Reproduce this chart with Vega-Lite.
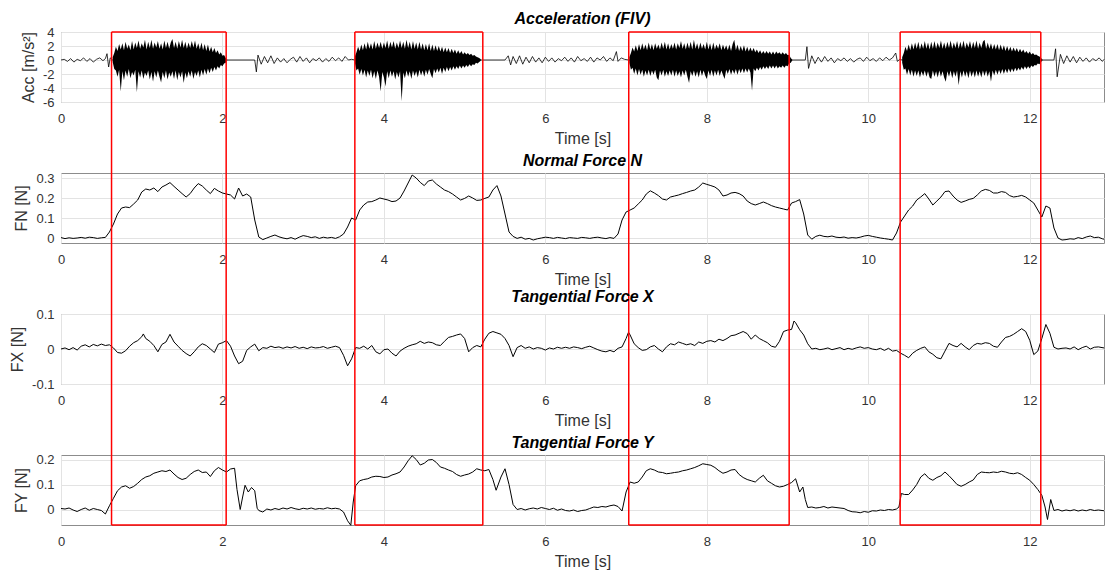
{
"$schema": "https://vega.github.io/schema/vega-lite/v6.json",
"padding": {"left": 9, "top": 10, "right": 0, "bottom": 0},
"bounds": "flush",
"spacing": 71,
"config": {
  "locale": {"number": {"decimal": ".", "thousands": ",", "grouping": [3], "currency": ["$", ""], "minus": "-"}},
  "font": "Liberation Sans",
  "view": {"stroke": "#8c8c8c", "strokeWidth": 1},
  "axis": {"labelFont": "Liberation Sans", "labelFontSize": 13, "labelColor": "#333333", "titleFont": "Liberation Sans", "titleFontSize": 16, "titleFontWeight": "normal", "titleColor": "#333333", "gridColor": "#e3e3e3", "domain": false, "ticks": false, "labelOverlap": false, "labelBound": false, "labelFlush": false},
  "axisX": {"labelPadding": 10, "titlePadding": 5},
  "axisY": {"labelPadding": 7, "titlePadding": 6},
  "title": {"font": "Liberation Sans", "fontSize": 16, "fontWeight": "bold", "fontStyle": "italic", "color": "#000000", "offset": 3}
},
"datasets": {
"box": [{"s":0.626,"e":2.046},{"s":3.64,"e":5.225},{"s":7.033,"e":9.02},{"s":10.395,"e":12.137}],
"accq": [{"t":0,"a":0},{"t":0.04,"a":0.1},{"t":0.08,"a":-0.2},{"t":0.12,"a":0.2},{"t":0.16,"a":-0.3},{"t":0.2,"a":0.1},{"t":0.24,"a":-0.1},{"t":0.28,"a":0.3},{"t":0.32,"a":-0.2},{"t":0.36,"a":0.2},{"t":0.4,"a":-0.3},{"t":0.44,"a":0.1},{"t":0.48,"a":0.3},{"t":0.52,"a":-0.1},{"t":0.55,"a":0.2},{"t":0.57,"a":0.9},{"t":0.59,"a":-1.0},{"t":0.61,"a":0.3},{"t":0.64,"a":0},{"t":2.06,"a":0},{"t":2.4,"a":0},{"t":2.42,"a":-1.7},{"t":2.44,"a":0.7},{"t":2.48,"a":-0.6},{"t":2.52,"a":0.5},{"t":2.56,"a":-0.4},{"t":2.6,"a":0.6},{"t":2.64,"a":-0.5},{"t":2.68,"a":0.3},{"t":2.72,"a":-0.3},{"t":2.76,"a":0.2},{"t":2.8,"a":-0.4},{"t":2.84,"a":0.1},{"t":2.88,"a":0.4},{"t":2.92,"a":-0.3},{"t":2.96,"a":0.5},{"t":3.0,"a":-0.2},{"t":3.04,"a":0.3},{"t":3.08,"a":-0.4},{"t":3.12,"a":0.2},{"t":3.16,"a":-0.1},{"t":3.2,"a":0.3},{"t":3.24,"a":-0.3},{"t":3.28,"a":0.2},{"t":3.32,"a":-0.2},{"t":3.36,"a":0.4},{"t":3.4,"a":-0.1},{"t":3.44,"a":0.3},{"t":3.48,"a":-0.2},{"t":3.52,"a":0.5},{"t":3.56,"a":0.0},{"t":3.6,"a":0.1},{"t":3.64,"a":0},{"t":5.2,"a":0},{"t":5.5,"a":0},{"t":5.54,"a":0.6},{"t":5.57,"a":-0.7},{"t":5.6,"a":0.5},{"t":5.64,"a":-0.5},{"t":5.68,"a":0.6},{"t":5.72,"a":-0.6},{"t":5.76,"a":0.4},{"t":5.8,"a":-0.4},{"t":5.84,"a":0.5},{"t":5.88,"a":-0.3},{"t":5.92,"a":0.3},{"t":5.96,"a":-0.4},{"t":6.0,"a":0.4},{"t":6.04,"a":-0.2},{"t":6.08,"a":0.3},{"t":6.12,"a":-0.3},{"t":6.16,"a":0.2},{"t":6.2,"a":-0.1},{"t":6.24,"a":0.4},{"t":6.28,"a":-0.2},{"t":6.32,"a":0.3},{"t":6.36,"a":-0.3},{"t":6.4,"a":0.5},{"t":6.44,"a":-0.1},{"t":6.48,"a":0.2},{"t":6.52,"a":-0.2},{"t":6.56,"a":0.4},{"t":6.6,"a":-0.3},{"t":6.64,"a":0.3},{"t":6.68,"a":0.0},{"t":6.72,"a":0.5},{"t":6.76,"a":-0.2},{"t":6.8,"a":0.3},{"t":6.84,"a":-0.1},{"t":6.88,"a":1.2},{"t":6.9,"a":-0.2},{"t":6.94,"a":0.3},{"t":6.98,"a":0.1},{"t":7.03,"a":0},{"t":9.06,"a":0},{"t":9.22,"a":0},{"t":9.24,"a":1.9},{"t":9.26,"a":-1.2},{"t":9.3,"a":0.6},{"t":9.34,"a":-0.5},{"t":9.38,"a":0.4},{"t":9.42,"a":-0.3},{"t":9.46,"a":0.5},{"t":9.5,"a":-0.2},{"t":9.54,"a":0.3},{"t":9.58,"a":-0.4},{"t":9.62,"a":0.2},{"t":9.66,"a":-0.1},{"t":9.7,"a":0.3},{"t":9.74,"a":-0.2},{"t":9.78,"a":0.2},{"t":9.82,"a":-0.3},{"t":9.86,"a":0.1},{"t":9.9,"a":0.3},{"t":9.94,"a":-0.2},{"t":9.98,"a":0.4},{"t":10.02,"a":-0.1},{"t":10.06,"a":0.2},{"t":10.1,"a":-0.2},{"t":10.14,"a":0.3},{"t":10.18,"a":-0.1},{"t":10.22,"a":0.4},{"t":10.26,"a":0.0},{"t":10.3,"a":0.3},{"t":10.34,"a":1.0},{"t":10.36,"a":-0.2},{"t":10.39,"a":0.1},{"t":10.42,"a":0},{"t":12.16,"a":0},{"t":12.3,"a":0},{"t":12.32,"a":1.6},{"t":12.34,"a":-2.4},{"t":12.38,"a":0.8},{"t":12.42,"a":-0.5},{"t":12.46,"a":0.6},{"t":12.5,"a":-0.3},{"t":12.54,"a":0.5},{"t":12.58,"a":-0.4},{"t":12.62,"a":0.4},{"t":12.66,"a":-0.2},{"t":12.7,"a":0.3},{"t":12.74,"a":-0.3},{"t":12.78,"a":0.2},{"t":12.82,"a":-0.1},{"t":12.86,"a":0.3},{"t":12.9,"a":-0.2},{"t":12.92,"a":0.1}],
"accb": [
{"b":1,"t":0.64,"l":-0.3,"h":0.4},{"b":1,"t":0.66,"l":-1.3,"h":1.0},{"b":1,"t":0.68,"l":-1.5,"h":1.9},{"b":1,"t":0.70,"l":-2.4,"h":1.3},{"b":1,"t":0.72,"l":-1.4,"h":2.3},{"b":1,"t":0.74,"l":-4.5,"h":1.5},{"b":1,"t":0.76,"l":-1.6,"h":2.4},{"b":1,"t":0.78,"l":-2.9,"h":1.4},{"b":1,"t":0.80,"l":-1.5,"h":2.6},{"b":1,"t":0.82,"l":-2.4,"h":1.6},{"b":1,"t":0.84,"l":-1.3,"h":2.2},{"b":1,"t":0.86,"l":-2.6,"h":1.4},{"b":1,"t":0.88,"l":-1.7,"h":2.7},{"b":1,"t":0.90,"l":-2.2,"h":1.5},{"b":1,"t":0.92,"l":-1.4,"h":2.5},{"b":1,"t":0.94,"l":-4.6,"h":1.7},{"b":1,"t":0.96,"l":-1.6,"h":2.8},{"b":1,"t":0.98,"l":-2.5,"h":1.6},{"b":1,"t":1.00,"l":-1.5,"h":2.4},{"b":1,"t":1.02,"l":-2.7,"h":1.8},{"b":1,"t":1.04,"l":-1.8,"h":2.9},{"b":1,"t":1.06,"l":-2.3,"h":1.5},{"b":1,"t":1.08,"l":-1.5,"h":2.6},{"b":1,"t":1.10,"l":-2.8,"h":1.7},{"b":1,"t":1.12,"l":-1.7,"h":2.9},{"b":1,"t":1.14,"l":-3.1,"h":1.6},{"b":1,"t":1.16,"l":-1.6,"h":2.5},{"b":1,"t":1.18,"l":-2.5,"h":1.8},{"b":1,"t":1.20,"l":-1.5,"h":2.7},{"b":1,"t":1.22,"l":-2.4,"h":1.6},{"b":1,"t":1.24,"l":-3.2,"h":2.4},{"b":1,"t":1.26,"l":-1.7,"h":1.5},{"b":1,"t":1.28,"l":-2.6,"h":2.8},{"b":1,"t":1.30,"l":-1.5,"h":1.7},{"b":1,"t":1.32,"l":-2.8,"h":2.6},{"b":1,"t":1.34,"l":-1.8,"h":1.6},{"b":1,"t":1.36,"l":-2.4,"h":2.5},{"b":1,"t":1.38,"l":-1.6,"h":3.0},{"b":1,"t":1.40,"l":-2.7,"h":1.7},{"b":1,"t":1.42,"l":-1.5,"h":2.6},{"b":1,"t":1.44,"l":-2.9,"h":1.6},{"b":1,"t":1.46,"l":-1.7,"h":2.7},{"b":1,"t":1.48,"l":-2.5,"h":1.8},{"b":1,"t":1.50,"l":-1.6,"h":2.9},{"b":1,"t":1.52,"l":-3.3,"h":1.7},{"b":1,"t":1.54,"l":-1.8,"h":2.6},{"b":1,"t":1.56,"l":-2.6,"h":1.6},{"b":1,"t":1.58,"l":-1.6,"h":2.5},{"b":1,"t":1.60,"l":-2.4,"h":1.7},{"b":1,"t":1.62,"l":-1.5,"h":2.7},{"b":1,"t":1.64,"l":-2.7,"h":1.8},{"b":1,"t":1.66,"l":-1.7,"h":2.8},{"b":1,"t":1.68,"l":-2.3,"h":1.6},{"b":1,"t":1.70,"l":-1.5,"h":2.4},{"b":1,"t":1.72,"l":-2.5,"h":1.5},{"b":1,"t":1.74,"l":-1.4,"h":2.5},{"b":1,"t":1.76,"l":-2.2,"h":1.4},{"b":1,"t":1.78,"l":-1.3,"h":2.3},{"b":1,"t":1.80,"l":-2.1,"h":1.3},{"b":1,"t":1.82,"l":-1.2,"h":2.2},{"b":1,"t":1.84,"l":-1.9,"h":1.2},{"b":1,"t":1.86,"l":-1.1,"h":1.9},{"b":1,"t":1.88,"l":-1.7,"h":1.1},{"b":1,"t":1.90,"l":-1.0,"h":1.7},{"b":1,"t":1.92,"l":-1.5,"h":1.0},{"b":1,"t":1.94,"l":-0.9,"h":1.4},{"b":1,"t":1.96,"l":-1.2,"h":0.8},{"b":1,"t":1.98,"l":-0.7,"h":1.1},{"b":1,"t":2.00,"l":-0.9,"h":0.6},{"b":1,"t":2.02,"l":-0.5,"h":0.7},{"b":1,"t":2.04,"l":-0.4,"h":0.3},{"b":1,"t":2.06,"l":-0.05,"h":0.05},
{"b":2,"t":3.64,"l":-0.4,"h":0.5},{"b":2,"t":3.66,"l":-1.5,"h":1.1},{"b":2,"t":3.68,"l":-1.2,"h":1.9},{"b":2,"t":3.70,"l":-2.1,"h":1.3},{"b":2,"t":3.72,"l":-1.3,"h":2.2},{"b":2,"t":3.74,"l":-2.2,"h":1.4},{"b":2,"t":3.76,"l":-1.4,"h":2.4},{"b":2,"t":3.78,"l":-2.5,"h":1.5},{"b":2,"t":3.80,"l":-1.5,"h":2.6},{"b":2,"t":3.82,"l":-2.3,"h":1.6},{"b":2,"t":3.84,"l":-1.4,"h":2.4},{"b":2,"t":3.86,"l":-2.6,"h":1.5},{"b":2,"t":3.88,"l":-1.6,"h":2.7},{"b":2,"t":3.90,"l":-2.7,"h":1.6},{"b":2,"t":3.92,"l":-1.5,"h":2.5},{"b":2,"t":3.94,"l":-2.4,"h":1.7},{"b":2,"t":3.96,"l":-4.5,"h":2.6},{"b":2,"t":3.98,"l":-1.7,"h":1.6},{"b":2,"t":4.00,"l":-2.5,"h":2.5},{"b":2,"t":4.02,"l":-3.8,"h":1.7},{"b":2,"t":4.04,"l":-1.6,"h":2.8},{"b":2,"t":4.06,"l":-2.6,"h":1.6},{"b":2,"t":4.08,"l":-1.5,"h":2.6},{"b":2,"t":4.10,"l":-2.4,"h":1.8},{"b":2,"t":4.12,"l":-1.6,"h":2.7},{"b":2,"t":4.14,"l":-2.8,"h":1.6},{"b":2,"t":4.16,"l":-1.7,"h":2.5},{"b":2,"t":4.18,"l":-2.5,"h":1.7},{"b":2,"t":4.20,"l":-1.6,"h":2.8},{"b":2,"t":4.22,"l":-5.9,"h":1.7},{"b":2,"t":4.24,"l":-1.8,"h":2.6},{"b":2,"t":4.26,"l":-2.6,"h":1.6},{"b":2,"t":4.28,"l":-1.5,"h":2.9},{"b":2,"t":4.30,"l":-2.4,"h":1.7},{"b":2,"t":4.32,"l":-1.6,"h":2.6},{"b":2,"t":4.34,"l":-2.7,"h":1.5},{"b":2,"t":4.36,"l":-1.5,"h":2.7},{"b":2,"t":4.38,"l":-2.3,"h":1.6},{"b":2,"t":4.40,"l":-1.6,"h":2.5},{"b":2,"t":4.42,"l":-2.5,"h":1.5},{"b":2,"t":4.44,"l":-1.4,"h":2.6},{"b":2,"t":4.46,"l":-2.2,"h":1.5},{"b":2,"t":4.48,"l":-1.5,"h":2.4},{"b":2,"t":4.50,"l":-2.4,"h":1.4},{"b":2,"t":4.52,"l":-1.4,"h":2.3},{"b":2,"t":4.54,"l":-2.1,"h":1.4},{"b":2,"t":4.56,"l":-1.3,"h":2.4},{"b":2,"t":4.58,"l":-2.0,"h":1.3},{"b":2,"t":4.60,"l":-2.6,"h":2.2},{"b":2,"t":4.62,"l":-1.3,"h":1.3},{"b":2,"t":4.64,"l":-1.9,"h":2.1},{"b":2,"t":4.66,"l":-1.2,"h":1.3},{"b":2,"t":4.68,"l":-1.8,"h":2.0},{"b":2,"t":4.70,"l":-1.1,"h":1.2},{"b":2,"t":4.72,"l":-2.0,"h":1.9},{"b":2,"t":4.74,"l":-1.1,"h":1.1},{"b":2,"t":4.76,"l":-1.7,"h":1.8},{"b":2,"t":4.78,"l":-1.0,"h":1.1},{"b":2,"t":4.80,"l":-1.6,"h":1.7},{"b":2,"t":4.82,"l":-1.0,"h":1.0},{"b":2,"t":4.84,"l":-1.5,"h":1.6},{"b":2,"t":4.86,"l":-0.9,"h":1.0},{"b":2,"t":4.88,"l":-1.4,"h":1.5},{"b":2,"t":4.90,"l":-0.9,"h":0.9},{"b":2,"t":4.92,"l":-1.3,"h":1.4},{"b":2,"t":4.94,"l":-0.8,"h":0.9},{"b":2,"t":4.96,"l":-1.2,"h":1.3},{"b":2,"t":4.98,"l":-0.8,"h":0.8},{"b":2,"t":5.00,"l":-1.1,"h":1.1},{"b":2,"t":5.02,"l":-0.7,"h":0.8},{"b":2,"t":5.04,"l":-1.0,"h":1.0},{"b":2,"t":5.06,"l":-0.6,"h":0.7},{"b":2,"t":5.08,"l":-0.9,"h":0.9},{"b":2,"t":5.10,"l":-0.6,"h":0.6},{"b":2,"t":5.12,"l":-0.7,"h":0.7},{"b":2,"t":5.14,"l":-0.4,"h":0.5},{"b":2,"t":5.16,"l":-0.5,"h":0.4},{"b":2,"t":5.18,"l":-0.3,"h":0.3},{"b":2,"t":5.20,"l":-0.1,"h":0.1},
{"b":3,"t":7.04,"l":-0.4,"h":0.4},{"b":3,"t":7.06,"l":-1.4,"h":1.0},{"b":3,"t":7.08,"l":-1.1,"h":1.8},{"b":3,"t":7.10,"l":-2.0,"h":1.2},{"b":3,"t":7.12,"l":-1.2,"h":2.1},{"b":3,"t":7.14,"l":-2.2,"h":1.3},{"b":3,"t":7.16,"l":-1.3,"h":2.3},{"b":3,"t":7.18,"l":-2.1,"h":1.4},{"b":3,"t":7.20,"l":-1.4,"h":2.4},{"b":3,"t":7.22,"l":-2.4,"h":1.5},{"b":3,"t":7.24,"l":-1.5,"h":2.2},{"b":3,"t":7.26,"l":-2.2,"h":1.4},{"b":3,"t":7.28,"l":-1.4,"h":2.5},{"b":3,"t":7.30,"l":-2.3,"h":1.5},{"b":3,"t":7.32,"l":-1.5,"h":2.3},{"b":3,"t":7.34,"l":-2.1,"h":1.4},{"b":3,"t":7.36,"l":-1.4,"h":2.4},{"b":3,"t":7.38,"l":-2.5,"h":1.6},{"b":3,"t":7.40,"l":-2.9,"h":2.2},{"b":3,"t":7.42,"l":-1.5,"h":1.5},{"b":3,"t":7.44,"l":-2.2,"h":2.5},{"b":3,"t":7.46,"l":-1.4,"h":1.6},{"b":3,"t":7.48,"l":-2.4,"h":2.6},{"b":3,"t":7.50,"l":-1.6,"h":1.5},{"b":3,"t":7.52,"l":-2.3,"h":2.4},{"b":3,"t":7.54,"l":-1.5,"h":1.5},{"b":3,"t":7.56,"l":-2.2,"h":2.3},{"b":3,"t":7.58,"l":-1.4,"h":1.6},{"b":3,"t":7.60,"l":-2.4,"h":2.5},{"b":3,"t":7.62,"l":-1.5,"h":1.5},{"b":3,"t":7.64,"l":-2.3,"h":2.4},{"b":3,"t":7.66,"l":-1.6,"h":1.7},{"b":3,"t":7.68,"l":-2.5,"h":2.7},{"b":3,"t":7.70,"l":-1.5,"h":1.6},{"b":3,"t":7.72,"l":-2.2,"h":2.4},{"b":3,"t":7.74,"l":-1.4,"h":1.5},{"b":3,"t":7.76,"l":-2.4,"h":2.5},{"b":3,"t":7.78,"l":-3.3,"h":1.6},{"b":3,"t":7.80,"l":-1.6,"h":2.6},{"b":3,"t":7.82,"l":-2.3,"h":1.5},{"b":3,"t":7.84,"l":-1.5,"h":2.9},{"b":3,"t":7.86,"l":-2.4,"h":1.6},{"b":3,"t":7.88,"l":-1.6,"h":2.4},{"b":3,"t":7.90,"l":-2.5,"h":1.5},{"b":3,"t":7.92,"l":-1.4,"h":2.5},{"b":3,"t":7.94,"l":-2.3,"h":1.6},{"b":3,"t":7.96,"l":-1.5,"h":2.3},{"b":3,"t":7.98,"l":-2.2,"h":1.5},{"b":3,"t":8.00,"l":-2.7,"h":2.6},{"b":3,"t":8.02,"l":-1.5,"h":1.5},{"b":3,"t":8.04,"l":-2.3,"h":2.4},{"b":3,"t":8.06,"l":-1.4,"h":1.4},{"b":3,"t":8.08,"l":-2.4,"h":2.5},{"b":3,"t":8.10,"l":-1.5,"h":1.5},{"b":3,"t":8.12,"l":-2.2,"h":2.2},{"b":3,"t":8.14,"l":-1.4,"h":1.6},{"b":3,"t":8.16,"l":-2.3,"h":2.4},{"b":3,"t":8.18,"l":-1.5,"h":1.4},{"b":3,"t":8.20,"l":-2.1,"h":2.2},{"b":3,"t":8.22,"l":-2.7,"h":1.5},{"b":3,"t":8.24,"l":-1.4,"h":2.1},{"b":3,"t":8.26,"l":-2.0,"h":1.4},{"b":3,"t":8.28,"l":-1.3,"h":2.2},{"b":3,"t":8.30,"l":-2.1,"h":1.3},{"b":3,"t":8.32,"l":-1.4,"h":2.3},{"b":3,"t":8.34,"l":-2.0,"h":2.9},{"b":3,"t":8.36,"l":-1.3,"h":1.4},{"b":3,"t":8.38,"l":-2.1,"h":2.2},{"b":3,"t":8.40,"l":-1.3,"h":1.3},{"b":3,"t":8.42,"l":-1.9,"h":2.0},{"b":3,"t":8.44,"l":-1.2,"h":1.3},{"b":3,"t":8.46,"l":-1.9,"h":2.1},{"b":3,"t":8.48,"l":-1.2,"h":1.2},{"b":3,"t":8.50,"l":-1.8,"h":1.9},{"b":3,"t":8.52,"l":-1.2,"h":1.2},{"b":3,"t":8.54,"l":-1.8,"h":1.8},{"b":3,"t":8.56,"l":-4.4,"h":1.2},{"b":3,"t":8.58,"l":-1.2,"h":1.7},{"b":3,"t":8.60,"l":-1.6,"h":1.1},{"b":3,"t":8.62,"l":-1.1,"h":1.5},{"b":3,"t":8.64,"l":-1.5,"h":1.0},{"b":3,"t":8.66,"l":-1.0,"h":1.4},{"b":3,"t":8.68,"l":-1.4,"h":0.9},{"b":3,"t":8.70,"l":-0.9,"h":1.3},{"b":3,"t":8.72,"l":-1.3,"h":0.9},{"b":3,"t":8.74,"l":-0.9,"h":1.3},{"b":3,"t":8.76,"l":-1.3,"h":0.9},{"b":3,"t":8.78,"l":-0.8,"h":1.2},{"b":3,"t":8.80,"l":-1.2,"h":0.8},{"b":3,"t":8.82,"l":-0.8,"h":1.2},{"b":3,"t":8.84,"l":-1.2,"h":0.8},{"b":3,"t":8.86,"l":-0.8,"h":1.2},{"b":3,"t":8.88,"l":-1.2,"h":0.9},{"b":3,"t":8.90,"l":-0.9,"h":1.1},{"b":3,"t":8.92,"l":-1.1,"h":0.8},{"b":3,"t":8.94,"l":-0.8,"h":1.1},{"b":3,"t":8.96,"l":-1.1,"h":0.8},{"b":3,"t":8.98,"l":-0.8,"h":1.0},{"b":3,"t":9.00,"l":-0.9,"h":0.7},{"b":3,"t":9.02,"l":-0.5,"h":0.7},{"b":3,"t":9.04,"l":-0.4,"h":0.3},{"b":3,"t":9.06,"l":-0.05,"h":0.05},
{"b":4,"t":10.42,"l":-0.4,"h":0.4},{"b":4,"t":10.44,"l":-1.4,"h":1.0},{"b":4,"t":10.46,"l":-1.2,"h":1.9},{"b":4,"t":10.48,"l":-2.1,"h":1.3},{"b":4,"t":10.50,"l":-1.3,"h":2.2},{"b":4,"t":10.52,"l":-2.2,"h":1.4},{"b":4,"t":10.54,"l":-1.4,"h":2.4},{"b":4,"t":10.56,"l":-2.4,"h":1.5},{"b":4,"t":10.58,"l":-1.5,"h":2.5},{"b":4,"t":10.60,"l":-2.3,"h":1.6},{"b":4,"t":10.62,"l":-1.5,"h":2.6},{"b":4,"t":10.64,"l":-2.5,"h":1.5},{"b":4,"t":10.66,"l":-1.6,"h":2.4},{"b":4,"t":10.68,"l":-2.3,"h":1.6},{"b":4,"t":10.70,"l":-1.5,"h":2.7},{"b":4,"t":10.72,"l":-2.4,"h":1.6},{"b":4,"t":10.74,"l":-1.6,"h":2.5},{"b":4,"t":10.76,"l":-2.5,"h":1.5},{"b":4,"t":10.78,"l":-2.7,"h":2.6},{"b":4,"t":10.80,"l":-1.5,"h":1.6},{"b":4,"t":10.82,"l":-2.4,"h":2.7},{"b":4,"t":10.84,"l":-1.6,"h":1.6},{"b":4,"t":10.86,"l":-2.5,"h":2.5},{"b":4,"t":10.88,"l":-1.5,"h":1.7},{"b":4,"t":10.90,"l":-2.4,"h":2.8},{"b":4,"t":10.92,"l":-1.6,"h":1.6},{"b":4,"t":10.94,"l":-2.5,"h":2.5},{"b":4,"t":10.96,"l":-3.1,"h":1.6},{"b":4,"t":10.98,"l":-1.6,"h":2.6},{"b":4,"t":11.00,"l":-2.4,"h":1.7},{"b":4,"t":11.02,"l":-1.5,"h":2.8},{"b":4,"t":11.04,"l":-2.6,"h":1.6},{"b":4,"t":11.06,"l":-1.6,"h":2.5},{"b":4,"t":11.08,"l":-2.4,"h":1.7},{"b":4,"t":11.10,"l":-1.5,"h":2.7},{"b":4,"t":11.12,"l":-3.6,"h":1.6},{"b":4,"t":11.14,"l":-1.6,"h":2.6},{"b":4,"t":11.16,"l":-2.5,"h":1.7},{"b":4,"t":11.18,"l":-1.5,"h":2.8},{"b":4,"t":11.20,"l":-2.4,"h":1.6},{"b":4,"t":11.22,"l":-1.6,"h":2.5},{"b":4,"t":11.24,"l":-2.6,"h":1.8},{"b":4,"t":11.26,"l":-1.5,"h":2.7},{"b":4,"t":11.28,"l":-2.4,"h":1.6},{"b":4,"t":11.30,"l":-1.6,"h":2.6},{"b":4,"t":11.32,"l":-2.5,"h":1.7},{"b":4,"t":11.34,"l":-1.5,"h":2.8},{"b":4,"t":11.36,"l":-2.4,"h":1.6},{"b":4,"t":11.38,"l":-1.6,"h":2.5},{"b":4,"t":11.40,"l":-2.5,"h":1.7},{"b":4,"t":11.42,"l":-1.5,"h":2.6},{"b":4,"t":11.44,"l":-2.3,"h":2.9},{"b":4,"t":11.46,"l":-1.5,"h":1.6},{"b":4,"t":11.48,"l":-2.4,"h":2.5},{"b":4,"t":11.50,"l":-1.6,"h":1.6},{"b":4,"t":11.52,"l":-3.1,"h":2.4},{"b":4,"t":11.54,"l":-1.5,"h":1.5},{"b":4,"t":11.56,"l":-2.2,"h":2.3},{"b":4,"t":11.58,"l":-1.4,"h":1.5},{"b":4,"t":11.60,"l":-2.1,"h":2.3},{"b":4,"t":11.62,"l":-1.4,"h":1.4},{"b":4,"t":11.64,"l":-2.0,"h":2.2},{"b":4,"t":11.66,"l":-1.3,"h":1.4},{"b":4,"t":11.68,"l":-2.0,"h":2.1},{"b":4,"t":11.70,"l":-1.3,"h":1.3},{"b":4,"t":11.72,"l":-1.9,"h":2.0},{"b":4,"t":11.74,"l":-1.2,"h":1.3},{"b":4,"t":11.76,"l":-1.8,"h":1.9},{"b":4,"t":11.78,"l":-1.2,"h":1.2},{"b":4,"t":11.80,"l":-1.7,"h":1.8},{"b":4,"t":11.82,"l":-1.1,"h":1.2},{"b":4,"t":11.84,"l":-1.6,"h":1.7},{"b":4,"t":11.86,"l":-1.1,"h":1.1},{"b":4,"t":11.88,"l":-1.5,"h":1.6},{"b":4,"t":11.90,"l":-1.0,"h":1.1},{"b":4,"t":11.92,"l":-1.4,"h":1.5},{"b":4,"t":11.94,"l":-0.9,"h":1.0},{"b":4,"t":11.96,"l":-1.3,"h":1.3},{"b":4,"t":11.98,"l":-0.9,"h":0.9},{"b":4,"t":12.00,"l":-1.2,"h":1.2},{"b":4,"t":12.02,"l":-0.8,"h":0.8},{"b":4,"t":12.04,"l":-1.0,"h":1.0},{"b":4,"t":12.06,"l":-0.7,"h":0.7},{"b":4,"t":12.08,"l":-0.8,"h":0.8},{"b":4,"t":12.10,"l":-0.5,"h":0.6},{"b":4,"t":12.12,"l":-0.6,"h":0.5},{"b":4,"t":12.14,"l":-0.3,"h":0.3},{"b":4,"t":12.16,"l":-0.05,"h":0.05}
],
"fn": [{"t":0,"v":0.002},{"t":0.05,"v":-0.003},{"t":0.1,"v":0.001},{"t":0.15,"v":-0.002},{"t":0.2,"v":0.0},{"t":0.25,"v":0.003},{"t":0.3,"v":-0.001},{"t":0.35,"v":0.004},{"t":0.4,"v":0.002},{"t":0.45,"v":-0.002},{"t":0.5,"v":0.001},{"t":0.55,"v":0.003},{"t":0.6,"v":0.03},{"t":0.65,"v":0.07},{"t":0.7,"v":0.12},{"t":0.75,"v":0.15},{"t":0.8,"v":0.155},{"t":0.85,"v":0.152},{"t":0.9,"v":0.17},{"t":0.95,"v":0.19},{"t":1.0,"v":0.23},{"t":1.05,"v":0.245},{"t":1.1,"v":0.24},{"t":1.15,"v":0.25},{"t":1.2,"v":0.232},{"t":1.25,"v":0.255},{"t":1.3,"v":0.265},{"t":1.35,"v":0.277},{"t":1.4,"v":0.258},{"t":1.45,"v":0.24},{"t":1.5,"v":0.222},{"t":1.55,"v":0.205},{"t":1.6,"v":0.222},{"t":1.65,"v":0.25},{"t":1.7,"v":0.272},{"t":1.75,"v":0.26},{"t":1.8,"v":0.24},{"t":1.85,"v":0.222},{"t":1.9,"v":0.248},{"t":1.95,"v":0.235},{"t":2.0,"v":0.225},{"t":2.05,"v":0.22},{"t":2.1,"v":0.215},{"t":2.15,"v":0.195},{"t":2.2,"v":0.25},{"t":2.25,"v":0.21},{"t":2.3,"v":0.22},{"t":2.35,"v":0.205},{"t":2.4,"v":0.09},{"t":2.45,"v":0.005},{"t":2.5,"v":-0.008},{"t":2.55,"v":0.0},{"t":2.6,"v":0.008},{"t":2.65,"v":0.015},{"t":2.7,"v":0.006},{"t":2.75,"v":0.0},{"t":2.8,"v":-0.004},{"t":2.85,"v":0.002},{"t":2.9,"v":-0.006},{"t":2.95,"v":0.004},{"t":3.0,"v":0.012},{"t":3.05,"v":0.008},{"t":3.1,"v":0.002},{"t":3.15,"v":0.006},{"t":3.2,"v":-0.002},{"t":3.25,"v":0.004},{"t":3.3,"v":0.0},{"t":3.35,"v":0.003},{"t":3.4,"v":-0.002},{"t":3.45,"v":0.006},{"t":3.5,"v":0.02},{"t":3.55,"v":0.055},{"t":3.6,"v":0.1},{"t":3.65,"v":0.09},{"t":3.7,"v":0.14},{"t":3.75,"v":0.165},{"t":3.8,"v":0.18},{"t":3.85,"v":0.182},{"t":3.9,"v":0.19},{"t":3.95,"v":0.2},{"t":4.0,"v":0.195},{"t":4.05,"v":0.19},{"t":4.1,"v":0.182},{"t":4.15,"v":0.185},{"t":4.2,"v":0.2},{"t":4.25,"v":0.235},{"t":4.3,"v":0.275},{"t":4.35,"v":0.315},{"t":4.4,"v":0.3},{"t":4.45,"v":0.278},{"t":4.5,"v":0.262},{"t":4.55,"v":0.285},{"t":4.6,"v":0.29},{"t":4.65,"v":0.27},{"t":4.7,"v":0.255},{"t":4.75,"v":0.24},{"t":4.8,"v":0.232},{"t":4.85,"v":0.22},{"t":4.9,"v":0.205},{"t":4.95,"v":0.19},{"t":5.0,"v":0.198},{"t":5.05,"v":0.21},{"t":5.1,"v":0.2},{"t":5.15,"v":0.188},{"t":5.2,"v":0.19},{"t":5.25,"v":0.198},{"t":5.3,"v":0.205},{"t":5.35,"v":0.24},{"t":5.4,"v":0.262},{"t":5.45,"v":0.21},{"t":5.5,"v":0.12},{"t":5.55,"v":0.03},{"t":5.6,"v":0.008},{"t":5.65,"v":-0.002},{"t":5.7,"v":0.004},{"t":5.75,"v":-0.006},{"t":5.8,"v":-0.002},{"t":5.85,"v":-0.01},{"t":5.9,"v":-0.004},{"t":5.95,"v":0.0},{"t":6.0,"v":0.004},{"t":6.05,"v":0.002},{"t":6.1,"v":-0.002},{"t":6.15,"v":0.003},{"t":6.2,"v":0.0},{"t":6.25,"v":-0.003},{"t":6.3,"v":0.002},{"t":6.35,"v":0.0},{"t":6.4,"v":-0.002},{"t":6.45,"v":0.003},{"t":6.5,"v":0.001},{"t":6.55,"v":-0.002},{"t":6.6,"v":0.002},{"t":6.65,"v":0.004},{"t":6.7,"v":0.0},{"t":6.75,"v":-0.003},{"t":6.8,"v":0.002},{"t":6.85,"v":-0.002},{"t":6.9,"v":0.02},{"t":6.95,"v":0.09},{"t":7.0,"v":0.13},{"t":7.05,"v":0.14},{"t":7.1,"v":0.15},{"t":7.15,"v":0.17},{"t":7.2,"v":0.19},{"t":7.25,"v":0.22},{"t":7.3,"v":0.236},{"t":7.35,"v":0.225},{"t":7.4,"v":0.212},{"t":7.45,"v":0.195},{"t":7.5,"v":0.19},{"t":7.55,"v":0.205},{"t":7.6,"v":0.21},{"t":7.65,"v":0.215},{"t":7.7,"v":0.222},{"t":7.75,"v":0.228},{"t":7.8,"v":0.235},{"t":7.85,"v":0.24},{"t":7.9,"v":0.255},{"t":7.95,"v":0.275},{"t":8.0,"v":0.268},{"t":8.05,"v":0.262},{"t":8.1,"v":0.255},{"t":8.15,"v":0.24},{"t":8.2,"v":0.21},{"t":8.25,"v":0.215},{"t":8.3,"v":0.225},{"t":8.35,"v":0.228},{"t":8.4,"v":0.222},{"t":8.45,"v":0.21},{"t":8.5,"v":0.185},{"t":8.55,"v":0.172},{"t":8.6,"v":0.165},{"t":8.65,"v":0.172},{"t":8.7,"v":0.18},{"t":8.75,"v":0.172},{"t":8.8,"v":0.162},{"t":8.85,"v":0.155},{"t":8.9,"v":0.15},{"t":8.95,"v":0.145},{"t":9.0,"v":0.14},{"t":9.05,"v":0.175},{"t":9.1,"v":0.182},{"t":9.15,"v":0.192},{"t":9.2,"v":0.12},{"t":9.25,"v":0.015},{"t":9.3,"v":-0.006},{"t":9.35,"v":0.008},{"t":9.4,"v":0.014},{"t":9.45,"v":0.008},{"t":9.5,"v":0.006},{"t":9.55,"v":0.01},{"t":9.6,"v":0.004},{"t":9.65,"v":0.002},{"t":9.7,"v":0.005},{"t":9.75,"v":-0.001},{"t":9.8,"v":0.002},{"t":9.85,"v":0.0},{"t":9.9,"v":0.004},{"t":9.95,"v":0.01},{"t":10.0,"v":0.013},{"t":10.05,"v":0.008},{"t":10.1,"v":0.004},{"t":10.15,"v":0.0},{"t":10.2,"v":-0.003},{"t":10.25,"v":-0.006},{"t":10.3,"v":-0.01},{"t":10.35,"v":0.025},{"t":10.4,"v":0.08},{"t":10.45,"v":0.11},{"t":10.5,"v":0.14},{"t":10.55,"v":0.16},{"t":10.6,"v":0.19},{"t":10.65,"v":0.205},{"t":10.7,"v":0.222},{"t":10.75,"v":0.195},{"t":10.8,"v":0.165},{"t":10.85,"v":0.185},{"t":10.9,"v":0.205},{"t":10.95,"v":0.232},{"t":11.0,"v":0.235},{"t":11.05,"v":0.21},{"t":11.1,"v":0.19},{"t":11.15,"v":0.178},{"t":11.2,"v":0.185},{"t":11.25,"v":0.193},{"t":11.3,"v":0.198},{"t":11.35,"v":0.215},{"t":11.4,"v":0.235},{"t":11.45,"v":0.243},{"t":11.5,"v":0.238},{"t":11.55,"v":0.225},{"t":11.6,"v":0.225},{"t":11.65,"v":0.232},{"t":11.7,"v":0.228},{"t":11.75,"v":0.212},{"t":11.8,"v":0.205},{"t":11.85,"v":0.208},{"t":11.9,"v":0.213},{"t":11.95,"v":0.205},{"t":12.0,"v":0.19},{"t":12.05,"v":0.175},{"t":12.1,"v":0.14},{"t":12.15,"v":0.105},{"t":12.2,"v":0.16},{"t":12.25,"v":0.15},{"t":12.3,"v":0.05},{"t":12.35,"v":0.0},{"t":12.4,"v":-0.01},{"t":12.45,"v":-0.008},{"t":12.5,"v":-0.004},{"t":12.55,"v":-0.006},{"t":12.6,"v":0.002},{"t":12.65,"v":-0.003},{"t":12.7,"v":0.005},{"t":12.75,"v":0.01},{"t":12.8,"v":0.002},{"t":12.85,"v":0.004},{"t":12.9,"v":-0.004},{"t":12.92,"v":-0.006}],
"fx": [{"t":0,"v":0.0},{"t":0.05,"v":0.003},{"t":0.1,"v":-0.002},{"t":0.15,"v":0.004},{"t":0.2,"v":-0.003},{"t":0.25,"v":0.008},{"t":0.3,"v":0.012},{"t":0.35,"v":0.006},{"t":0.4,"v":0.013},{"t":0.45,"v":0.009},{"t":0.5,"v":0.014},{"t":0.55,"v":0.01},{"t":0.6,"v":0.012},{"t":0.65,"v":0.003},{"t":0.7,"v":-0.01},{"t":0.75,"v":-0.012},{"t":0.8,"v":-0.005},{"t":0.85,"v":0.008},{"t":0.9,"v":0.018},{"t":0.95,"v":0.024},{"t":1.0,"v":0.035},{"t":1.02,"v":0.043},{"t":1.05,"v":0.03},{"t":1.1,"v":0.022},{"t":1.15,"v":0.01},{"t":1.2,"v":-0.008},{"t":1.25,"v":0.013},{"t":1.3,"v":0.02},{"t":1.35,"v":0.042},{"t":1.4,"v":0.02},{"t":1.45,"v":0.008},{"t":1.5,"v":-0.004},{"t":1.55,"v":-0.013},{"t":1.6,"v":-0.02},{"t":1.65,"v":-0.008},{"t":1.7,"v":0.006},{"t":1.75,"v":0.015},{"t":1.8,"v":0.01},{"t":1.85,"v":0.0},{"t":1.9,"v":-0.01},{"t":1.95,"v":0.014},{"t":2.0,"v":0.018},{"t":2.05,"v":0.024},{"t":2.1,"v":0.008},{"t":2.15,"v":-0.02},{"t":2.2,"v":-0.042},{"t":2.25,"v":-0.035},{"t":2.3,"v":-0.004},{"t":2.35,"v":0.006},{"t":2.4,"v":0.014},{"t":2.45,"v":-0.005},{"t":2.5,"v":0.004},{"t":2.55,"v":0.002},{"t":2.6,"v":0.008},{"t":2.65,"v":0.004},{"t":2.7,"v":0.006},{"t":2.75,"v":0.002},{"t":2.8,"v":0.006},{"t":2.85,"v":0.003},{"t":2.9,"v":0.007},{"t":2.95,"v":0.002},{"t":3.0,"v":0.005},{"t":3.05,"v":0.001},{"t":3.1,"v":0.006},{"t":3.15,"v":0.003},{"t":3.2,"v":0.004},{"t":3.25,"v":0.007},{"t":3.3,"v":0.002},{"t":3.35,"v":0.005},{"t":3.4,"v":0.008},{"t":3.45,"v":0.004},{"t":3.5,"v":-0.018},{"t":3.55,"v":-0.048},{"t":3.6,"v":-0.028},{"t":3.65,"v":0.004},{"t":3.7,"v":0.002},{"t":3.75,"v":0.008},{"t":3.8,"v":0.0},{"t":3.85,"v":0.01},{"t":3.9,"v":-0.008},{"t":3.95,"v":-0.014},{"t":4.0,"v":-0.002},{"t":4.05,"v":0.0},{"t":4.1,"v":-0.012},{"t":4.15,"v":-0.02},{"t":4.2,"v":-0.006},{"t":4.25,"v":0.002},{"t":4.3,"v":0.008},{"t":4.35,"v":0.012},{"t":4.4,"v":0.015},{"t":4.45,"v":0.022},{"t":4.5,"v":0.016},{"t":4.55,"v":0.02},{"t":4.6,"v":0.018},{"t":4.65,"v":0.012},{"t":4.7,"v":0.01},{"t":4.75,"v":0.022},{"t":4.8,"v":0.033},{"t":4.85,"v":0.036},{"t":4.9,"v":0.04},{"t":4.95,"v":0.043},{"t":5.0,"v":0.03},{"t":5.05,"v":-0.008},{"t":5.1,"v":0.004},{"t":5.15,"v":0.01},{"t":5.2,"v":0.006},{"t":5.25,"v":0.028},{"t":5.3,"v":0.045},{"t":5.35,"v":0.05},{"t":5.4,"v":0.046},{"t":5.45,"v":0.042},{"t":5.5,"v":0.03},{"t":5.55,"v":0.01},{"t":5.6,"v":-0.022},{"t":5.65,"v":0.004},{"t":5.7,"v":0.01},{"t":5.75,"v":0.002},{"t":5.8,"v":0.006},{"t":5.85,"v":0.0},{"t":5.9,"v":0.004},{"t":5.95,"v":0.002},{"t":6.0,"v":-0.003},{"t":6.05,"v":0.003},{"t":6.1,"v":0.0},{"t":6.15,"v":0.005},{"t":6.2,"v":0.002},{"t":6.25,"v":0.005},{"t":6.3,"v":0.002},{"t":6.35,"v":0.006},{"t":6.4,"v":0.004},{"t":6.45,"v":0.001},{"t":6.5,"v":0.005},{"t":6.55,"v":0.008},{"t":6.6,"v":0.003},{"t":6.65,"v":-0.002},{"t":6.7,"v":-0.006},{"t":6.75,"v":-0.008},{"t":6.8,"v":-0.004},{"t":6.85,"v":-0.008},{"t":6.9,"v":0.002},{"t":6.95,"v":0.006},{"t":7.0,"v":0.03},{"t":7.03,"v":0.048},{"t":7.05,"v":0.04},{"t":7.1,"v":0.015},{"t":7.15,"v":0.004},{"t":7.2,"v":-0.004},{"t":7.25,"v":-0.002},{"t":7.3,"v":0.006},{"t":7.35,"v":0.01},{"t":7.4,"v":0.0},{"t":7.45,"v":-0.008},{"t":7.5,"v":0.006},{"t":7.55,"v":0.015},{"t":7.6,"v":0.012},{"t":7.65,"v":0.02},{"t":7.7,"v":0.016},{"t":7.75,"v":0.012},{"t":7.8,"v":0.015},{"t":7.85,"v":0.01},{"t":7.9,"v":0.02},{"t":7.95,"v":0.016},{"t":8.0,"v":0.022},{"t":8.05,"v":0.024},{"t":8.1,"v":0.02},{"t":8.15,"v":0.028},{"t":8.2,"v":0.024},{"t":8.25,"v":0.03},{"t":8.3,"v":0.038},{"t":8.35,"v":0.04},{"t":8.4,"v":0.045},{"t":8.45,"v":0.05},{"t":8.5,"v":0.044},{"t":8.55,"v":0.028},{"t":8.6,"v":0.04},{"t":8.65,"v":0.03},{"t":8.7,"v":0.024},{"t":8.75,"v":0.018},{"t":8.8,"v":0.008},{"t":8.85,"v":0.005},{"t":8.9,"v":0.022},{"t":8.95,"v":0.05},{"t":9.0,"v":0.054},{"t":9.05,"v":0.056},{"t":9.08,"v":0.08},{"t":9.1,"v":0.075},{"t":9.15,"v":0.055},{"t":9.2,"v":0.04},{"t":9.25,"v":0.015},{"t":9.3,"v":0.0},{"t":9.35,"v":0.002},{"t":9.4,"v":-0.002},{"t":9.45,"v":0.0},{"t":9.5,"v":0.003},{"t":9.55,"v":-0.002},{"t":9.6,"v":0.001},{"t":9.65,"v":0.004},{"t":9.7,"v":-0.002},{"t":9.75,"v":0.002},{"t":9.8,"v":-0.001},{"t":9.85,"v":0.003},{"t":9.9,"v":0.006},{"t":9.95,"v":0.002},{"t":10.0,"v":0.004},{"t":10.05,"v":0.0},{"t":10.1,"v":-0.002},{"t":10.15,"v":0.002},{"t":10.2,"v":-0.004},{"t":10.25,"v":0.002},{"t":10.3,"v":-0.006},{"t":10.35,"v":-0.004},{"t":10.4,"v":-0.012},{"t":10.45,"v":-0.018},{"t":10.5,"v":-0.025},{"t":10.55,"v":-0.012},{"t":10.6,"v":-0.004},{"t":10.65,"v":0.002},{"t":10.7,"v":0.006},{"t":10.75,"v":-0.008},{"t":10.8,"v":-0.015},{"t":10.85,"v":-0.025},{"t":10.9,"v":-0.028},{"t":10.95,"v":-0.006},{"t":11.0,"v":0.016},{"t":11.05,"v":0.01},{"t":11.1,"v":0.006},{"t":11.15,"v":0.016},{"t":11.2,"v":0.006},{"t":11.25,"v":-0.002},{"t":11.3,"v":0.01},{"t":11.35,"v":0.016},{"t":11.4,"v":0.014},{"t":11.45,"v":0.018},{"t":11.5,"v":0.016},{"t":11.55,"v":0.008},{"t":11.6,"v":0.005},{"t":11.65,"v":0.02},{"t":11.7,"v":0.033},{"t":11.75,"v":0.036},{"t":11.8,"v":0.042},{"t":11.85,"v":0.05},{"t":11.9,"v":0.058},{"t":11.95,"v":0.05},{"t":12.0,"v":0.025},{"t":12.05,"v":-0.016},{"t":12.1,"v":-0.006},{"t":12.15,"v":0.03},{"t":12.2,"v":0.07},{"t":12.25,"v":0.045},{"t":12.3,"v":0.005},{"t":12.35,"v":0.0},{"t":12.4,"v":0.002},{"t":12.45,"v":0.003},{"t":12.5,"v":0.0},{"t":12.55,"v":0.006},{"t":12.6,"v":-0.002},{"t":12.65,"v":0.004},{"t":12.7,"v":0.008},{"t":12.75,"v":0.0},{"t":12.8,"v":0.005},{"t":12.85,"v":0.006},{"t":12.92,"v":0.003}],
"fy": [{"t":0,"v":0.004},{"t":0.05,"v":0.002},{"t":0.1,"v":0.006},{"t":0.15,"v":-0.002},{"t":0.2,"v":-0.008},{"t":0.25,"v":0.0},{"t":0.3,"v":0.006},{"t":0.35,"v":-0.003},{"t":0.4,"v":0.004},{"t":0.45,"v":0.0},{"t":0.5,"v":-0.004},{"t":0.55,"v":-0.018},{"t":0.6,"v":0.015},{"t":0.65,"v":0.045},{"t":0.7,"v":0.075},{"t":0.75,"v":0.09},{"t":0.8,"v":0.095},{"t":0.85,"v":0.085},{"t":0.9,"v":0.092},{"t":0.95,"v":0.105},{"t":1.0,"v":0.12},{"t":1.05,"v":0.13},{"t":1.1,"v":0.135},{"t":1.15,"v":0.145},{"t":1.2,"v":0.15},{"t":1.25,"v":0.155},{"t":1.3,"v":0.152},{"t":1.35,"v":0.158},{"t":1.4,"v":0.142},{"t":1.45,"v":0.128},{"t":1.5,"v":0.12},{"t":1.55,"v":0.125},{"t":1.6,"v":0.14},{"t":1.65,"v":0.152},{"t":1.7,"v":0.158},{"t":1.75,"v":0.148},{"t":1.8,"v":0.15},{"t":1.85,"v":0.132},{"t":1.9,"v":0.155},{"t":1.95,"v":0.168},{"t":2.0,"v":0.158},{"t":2.05,"v":0.15},{"t":2.1,"v":0.162},{"t":2.15,"v":0.165},{"t":2.18,"v":0.08},{"t":2.22,"v":0.0},{"t":2.25,"v":0.05},{"t":2.28,"v":0.097},{"t":2.32,"v":0.07},{"t":2.36,"v":0.088},{"t":2.4,"v":0.075},{"t":2.43,"v":0.005},{"t":2.45,"v":-0.004},{"t":2.5,"v":-0.01},{"t":2.55,"v":0.002},{"t":2.6,"v":-0.002},{"t":2.65,"v":0.004},{"t":2.7,"v":0.0},{"t":2.75,"v":0.006},{"t":2.8,"v":0.002},{"t":2.85,"v":0.008},{"t":2.9,"v":0.003},{"t":2.95,"v":0.0},{"t":3.0,"v":0.005},{"t":3.05,"v":0.002},{"t":3.1,"v":0.006},{"t":3.15,"v":0.001},{"t":3.2,"v":0.004},{"t":3.25,"v":0.002},{"t":3.3,"v":0.007},{"t":3.35,"v":0.003},{"t":3.4,"v":0.005},{"t":3.45,"v":0.002},{"t":3.5,"v":-0.01},{"t":3.55,"v":-0.045},{"t":3.59,"v":-0.063},{"t":3.62,"v":0.03},{"t":3.65,"v":0.095},{"t":3.7,"v":0.115},{"t":3.75,"v":0.12},{"t":3.8,"v":0.123},{"t":3.85,"v":0.13},{"t":3.9,"v":0.133},{"t":3.95,"v":0.132},{"t":4.0,"v":0.128},{"t":4.05,"v":0.13},{"t":4.1,"v":0.138},{"t":4.15,"v":0.143},{"t":4.2,"v":0.15},{"t":4.25,"v":0.17},{"t":4.3,"v":0.195},{"t":4.35,"v":0.215},{"t":4.4,"v":0.2},{"t":4.45,"v":0.178},{"t":4.5,"v":0.185},{"t":4.55,"v":0.198},{"t":4.6,"v":0.2},{"t":4.65,"v":0.188},{"t":4.7,"v":0.17},{"t":4.75,"v":0.165},{"t":4.8,"v":0.158},{"t":4.85,"v":0.152},{"t":4.9,"v":0.14},{"t":4.95,"v":0.133},{"t":5.0,"v":0.138},{"t":5.05,"v":0.142},{"t":5.1,"v":0.15},{"t":5.15,"v":0.163},{"t":5.2,"v":0.158},{"t":5.25,"v":0.155},{"t":5.3,"v":0.16},{"t":5.35,"v":0.12},{"t":5.39,"v":0.077},{"t":5.45,"v":0.13},{"t":5.5,"v":0.163},{"t":5.55,"v":0.1},{"t":5.6,"v":0.02},{"t":5.65,"v":0.0},{"t":5.7,"v":0.004},{"t":5.75,"v":-0.002},{"t":5.8,"v":0.003},{"t":5.85,"v":0.006},{"t":5.9,"v":0.002},{"t":5.95,"v":0.008},{"t":6.0,"v":0.004},{"t":6.05,"v":0.0},{"t":6.1,"v":0.005},{"t":6.15,"v":-0.003},{"t":6.2,"v":0.002},{"t":6.25,"v":-0.004},{"t":6.3,"v":-0.006},{"t":6.35,"v":-0.002},{"t":6.4,"v":-0.008},{"t":6.45,"v":-0.004},{"t":6.5,"v":-0.002},{"t":6.55,"v":0.004},{"t":6.6,"v":0.01},{"t":6.65,"v":0.008},{"t":6.7,"v":0.012},{"t":6.75,"v":0.01},{"t":6.8,"v":0.015},{"t":6.85,"v":0.018},{"t":6.9,"v":0.012},{"t":6.95,"v":-0.006},{"t":7.0,"v":0.07},{"t":7.05,"v":0.11},{"t":7.1,"v":0.105},{"t":7.15,"v":0.11},{"t":7.2,"v":0.13},{"t":7.25,"v":0.155},{"t":7.3,"v":0.163},{"t":7.35,"v":0.158},{"t":7.4,"v":0.15},{"t":7.45,"v":0.148},{"t":7.5,"v":0.143},{"t":7.55,"v":0.145},{"t":7.6,"v":0.148},{"t":7.65,"v":0.15},{"t":7.7,"v":0.155},{"t":7.75,"v":0.158},{"t":7.8,"v":0.163},{"t":7.85,"v":0.168},{"t":7.9,"v":0.175},{"t":7.95,"v":0.183},{"t":8.0,"v":0.18},{"t":8.05,"v":0.177},{"t":8.1,"v":0.168},{"t":8.15,"v":0.155},{"t":8.2,"v":0.145},{"t":8.25,"v":0.15},{"t":8.3,"v":0.158},{"t":8.35,"v":0.16},{"t":8.4,"v":0.14},{"t":8.45,"v":0.128},{"t":8.5,"v":0.12},{"t":8.55,"v":0.115},{"t":8.6,"v":0.11},{"t":8.65,"v":0.125},{"t":8.7,"v":0.137},{"t":8.75,"v":0.115},{"t":8.8,"v":0.105},{"t":8.85,"v":0.095},{"t":8.9,"v":0.09},{"t":8.95,"v":0.093},{"t":9.0,"v":0.1},{"t":9.05,"v":0.108},{"t":9.1,"v":0.123},{"t":9.15,"v":0.07},{"t":9.19,"v":0.09},{"t":9.22,"v":0.04},{"t":9.25,"v":0.008},{"t":9.3,"v":0.01},{"t":9.35,"v":0.006},{"t":9.4,"v":0.008},{"t":9.45,"v":0.012},{"t":9.5,"v":0.006},{"t":9.55,"v":0.01},{"t":9.6,"v":0.008},{"t":9.65,"v":0.006},{"t":9.7,"v":0.004},{"t":9.75,"v":-0.004},{"t":9.8,"v":-0.009},{"t":9.85,"v":-0.01},{"t":9.9,"v":-0.013},{"t":9.95,"v":-0.008},{"t":10.0,"v":-0.011},{"t":10.05,"v":-0.005},{"t":10.1,"v":-0.006},{"t":10.15,"v":-0.002},{"t":10.2,"v":-0.004},{"t":10.25,"v":0.0},{"t":10.3,"v":-0.002},{"t":10.35,"v":0.002},{"t":10.38,"v":0.01},{"t":10.41,"v":0.064},{"t":10.45,"v":0.06},{"t":10.5,"v":0.06},{"t":10.55,"v":0.078},{"t":10.6,"v":0.1},{"t":10.65,"v":0.13},{"t":10.7,"v":0.143},{"t":10.75,"v":0.125},{"t":10.8,"v":0.117},{"t":10.85,"v":0.128},{"t":10.9,"v":0.135},{"t":10.95,"v":0.15},{"t":11.0,"v":0.135},{"t":11.05,"v":0.118},{"t":11.1,"v":0.1},{"t":11.15,"v":0.093},{"t":11.2,"v":0.1},{"t":11.25,"v":0.11},{"t":11.3,"v":0.118},{"t":11.35,"v":0.14},{"t":11.4,"v":0.15},{"t":11.45,"v":0.148},{"t":11.5,"v":0.147},{"t":11.55,"v":0.15},{"t":11.6,"v":0.148},{"t":11.65,"v":0.153},{"t":11.7,"v":0.15},{"t":11.75,"v":0.145},{"t":11.8,"v":0.143},{"t":11.85,"v":0.147},{"t":11.9,"v":0.14},{"t":11.95,"v":0.128},{"t":12.0,"v":0.117},{"t":12.05,"v":0.1},{"t":12.1,"v":0.08},{"t":12.15,"v":0.057},{"t":12.19,"v":0.01},{"t":12.22,"v":-0.04},{"t":12.26,"v":0.04},{"t":12.3,"v":-0.004},{"t":12.35,"v":0.0},{"t":12.4,"v":-0.006},{"t":12.45,"v":-0.002},{"t":12.5,"v":-0.005},{"t":12.55,"v":-0.001},{"t":12.6,"v":-0.006},{"t":12.65,"v":-0.002},{"t":12.7,"v":-0.005},{"t":12.75,"v":0.0},{"t":12.8,"v":-0.004},{"t":12.85,"v":-0.002},{"t":12.92,"v":-0.005}]
},
"vconcat": [
{
 "width": 1043, "height": 70,
 "title": {"text": "Acceleration (FIV)", "offset": -1},
 "layer": [
  {"data": {"name": "accq"}, "mark": {"type": "line", "color": "#000000", "strokeWidth": 0.8},
   "encoding": {
    "x": {"field": "t", "type": "quantitative", "scale": {"domain": [0, 12.92], "nice": false, "zero": false}, "axis": {"values": [0,2,4,6,8,10,12], "title": "Time [s]", "format": "d", "labelOverlap": false}},
    "y": {"field": "a", "type": "quantitative", "scale": {"domain": [-6, 4], "nice": false, "zero": false}, "axis": {"values": [-6,-4,-2,0,2,4], "tickCount": 6, "title": "Acc [m/s²]", "format": "d", "labelOverlap": false}}
   }},
  {"data": {"name": "accb"}, "mark": {"type": "area", "color": "#000000", "opacity": 1},
   "encoding": {"x": {"field": "t", "type": "quantitative"}, "y": {"field": "h", "type": "quantitative"}, "y2": {"field": "l"}, "detail": {"field": "b", "type": "nominal"}}},
  {"data": {"name": "box"}, "transform": [{"fold": ["s", "e"]}], "mark": {"type": "rule", "color": "#ff0000", "strokeWidth": 1.5},
   "encoding": {"x": {"field": "value", "type": "quantitative"}, "y": {"datum": 4}, "y2": {"datum": -16.2}}},
  {"data": {"name": "box"}, "mark": {"type": "rule", "color": "#ff0000", "strokeWidth": 1.5},
   "encoding": {"x": {"field": "s", "type": "quantitative"}, "x2": {"field": "e"}, "y": {"datum": 4}}}
 ]
},
{
 "width": 1043, "height": 70,
 "title": "Normal Force N",
 "layer": [
  {"data": {"name": "fn"}, "mark": {"type": "line", "color": "#000000", "strokeWidth": 1},
   "encoding": {
    "x": {"field": "t", "type": "quantitative", "scale": {"domain": [0, 12.92], "nice": false, "zero": false}, "axis": {"values": [0,2,4,6,8,10,12], "title": "Time [s]", "format": "d", "labelOverlap": false}},
    "y": {"field": "v", "type": "quantitative", "scale": {"domain": [-0.025, 0.325], "nice": false, "zero": false}, "axis": {"values": [0, 0.1, 0.2, 0.3], "tickCount": 4, "title": "FN [N]", "format": "~g", "labelOverlap": false}}
   }},
  {"data": {"name": "box"}, "transform": [{"fold": ["s", "e"]}], "mark": {"type": "rule", "color": "#ff0000", "strokeWidth": 1.5},
   "encoding": {"x": {"field": "value", "type": "quantitative"}, "y": {"datum": 0.325}, "y2": {"datum": -0.38}}}
 ]
},
{
 "width": 1043, "height": 70,
 "title": "Tangential Force X",
 "layer": [
  {"data": {"name": "fx"}, "mark": {"type": "line", "color": "#000000", "strokeWidth": 1},
   "encoding": {
    "x": {"field": "t", "type": "quantitative", "scale": {"domain": [0, 12.92], "nice": false, "zero": false}, "axis": {"values": [0,2,4,6,8,10,12], "title": "Time [s]", "format": "d", "labelOverlap": false}},
    "y": {"field": "v", "type": "quantitative", "scale": {"domain": [-0.1, 0.1], "nice": false, "zero": false}, "axis": {"values": [-0.1, 0, 0.1], "tickCount": 3, "title": "FX [N]", "format": "~g", "labelOverlap": false}}
   }},
  {"data": {"name": "box"}, "transform": [{"fold": ["s", "e"]}], "mark": {"type": "rule", "color": "#ff0000", "strokeWidth": 1.5},
   "encoding": {"x": {"field": "value", "type": "quantitative"}, "y": {"datum": 0.1}, "y2": {"datum": -0.303}}}
 ]
},
{
 "width": 1043, "height": 70,
 "title": "Tangential Force Y",
 "layer": [
  {"data": {"name": "fy"}, "mark": {"type": "line", "color": "#000000", "strokeWidth": 1},
   "encoding": {
    "x": {"field": "t", "type": "quantitative", "scale": {"domain": [0, 12.92], "nice": false, "zero": false}, "axis": {"values": [0,2,4,6,8,10,12], "title": "Time [s]", "format": "d", "labelOverlap": false}},
    "y": {"field": "v", "type": "quantitative", "scale": {"domain": [-0.062, 0.218], "nice": false, "zero": false}, "axis": {"values": [0, 0.1, 0.2], "tickCount": 3, "title": "FY [N]", "format": "~g", "labelOverlap": false}}
   }},
  {"data": {"name": "box"}, "transform": [{"fold": ["s", "e"]}], "mark": {"type": "rule", "color": "#ff0000", "strokeWidth": 1.5},
   "encoding": {"x": {"field": "value", "type": "quantitative"}, "y": {"datum": 0.218}, "y2": {"datum": -0.062}}},
  {"data": {"name": "box"}, "mark": {"type": "rule", "color": "#ff0000", "strokeWidth": 1.5},
   "encoding": {"x": {"field": "s", "type": "quantitative"}, "x2": {"field": "e"}, "y": {"datum": -0.062}}}
 ]
}
]
}
